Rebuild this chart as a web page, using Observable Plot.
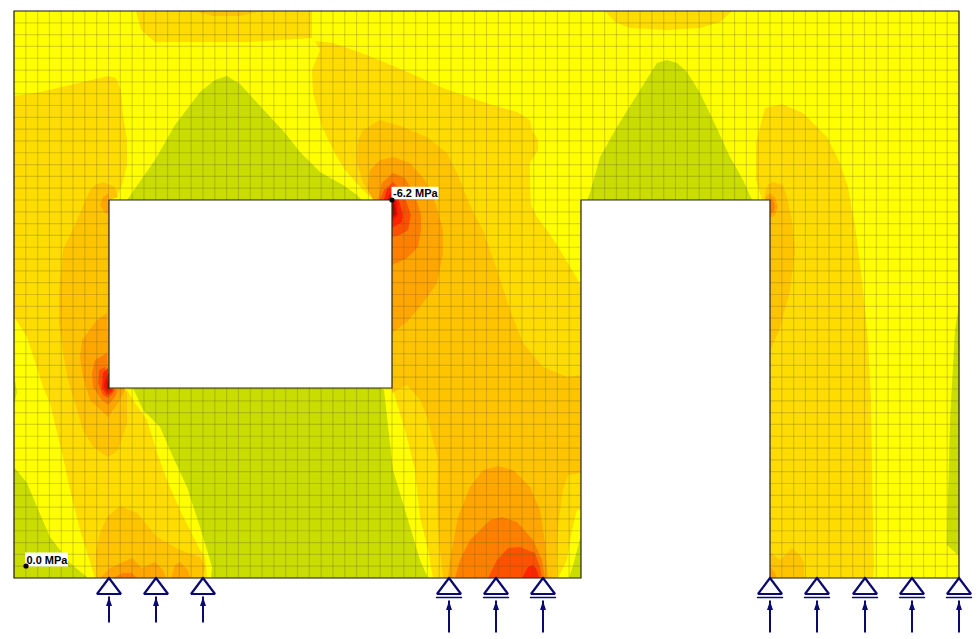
<!DOCTYPE html>
<html><head><meta charset="utf-8">
<script src="https://cdn.jsdelivr.net/npm/d3@7"></script>
<script src="https://cdn.jsdelivr.net/npm/@observablehq/plot@0.6"></script>
<style>html,body{margin:0;padding:0;background:#fff;overflow:hidden}svg{display:block}</style>
</head><body><div id="chart"></div>
<script>
// Lengths in cm: x from the wall's left edge, y down from the wall's top edge.
const wallW = 945, wallH = 567, meshStep = 945 / 80;
const wallOutline = [[0,0],[945,0],[945,567],[756,567],[756,189],[567,189],[567,567],[0,567],[0,0]];
const openingA = [[95,189],[378,189],[378,377],[95,377],[95,189]];
const openingB = [[567,189],[756,189],[756,571],[567,571],[567,189]];
const wallBase = [[0,0],[945,0],[945,567],[0,567]];

// Stress bands, low to high
const green="#c9dd00", yellow="#ffff00", gold="#ffdc00", b3="#ffc400", b4="#ffa600", b5="#ff8000", b6="#ff5200", b7="#ff2400", b8="#e81008", b9="#c80000", b10="#a00000";

const greenAbove1=[[113,189],[141,149],[161,114],[186,81],[201,69],[213,65],[226,73],[248,97],[271,122],[286,141],[306,161],[329,174],[343,184],[348,189]];
const greenAbove2=[[573,189],[576,182],[586,146],[603,116],[626,79],[643,52],[653,49],[663,52],[673,61],[686,82],[699,109],[716,146],[729,169],[738,189]];
const greenBelow1=[[119,377],[129,399],[146,416],[159,446],[173,476],[186,516],[193,539],[198,556],[197,567],[414,567],[406,549],[391,499],[379,459],[370,379],[366,377]];
const greenLowerLeft=[[0,456],[13,472],[23,496],[36,526],[56,552],[74,567],[0,567]];
const greenEdge=[[0,364],[3,381],[0,394]];
const greenCorner=[[555,567],[560,551],[567,524],[567,567]];
const greenRight=[[945,294],[941,319],[936,409],[934,489],[933,534],[945,545]];

const goldTopLeft=[[122,0],[127,19],[141,31],[236,31],[298,27],[298,0]];
const capTopLeft=[[179,0],[199,5],[226,5],[248,0]];
const goldTopRight=[[591,0],[601,11],[616,17],[653,19],[686,17],[706,11],[718,0]];
const goldCentre=[[301,30],[319,32],[353,44],[396,62],[429,77],[469,91],[503,101],[516,109],[518,119],[524,129],[524,139],[516,152],[516,176],[517,194],[523,206],[533,219],[546,239],[567,274],[567,567],[419,567],[414,539],[406,506],[401,459],[391,419],[381,386],[378,377],[378,189],[366,189],[358,187],[349,179],[331,159],[323,146],[308,116],[299,82],[298,59],[306,39]];
const goldLeft=[[0,85],[26,81],[86,67],[94,65],[102,67],[107,79],[109,104],[113,129],[113,154],[108,174],[102,187],[95,189],[95,377],[113,379],[121,392],[133,409],[143,442],[153,469],[166,499],[186,539],[191,546],[193,567],[81,567],[66,519],[56,479],[49,446],[36,392],[29,376],[13,326],[0,306]];
const goldRight=[[768,93],[751,97],[746,116],[742,132],[742,169],[748,189],[756,189],[756,567],[859,567],[860,556],[859,519],[857,389],[854,329],[848,269],[841,214],[838,199],[834,176],[826,152],[813,126],[789,102]];

const b3Centre=[[361,189],[358,186],[349,172],[343,152],[344,129],[349,119],[366,109],[389,116],[413,126],[433,142],[443,162],[458,199],[469,219],[483,259],[496,299],[509,332],[529,356],[553,366],[567,364],[567,462],[554,464],[549,479],[544,516],[542,567],[429,567],[426,539],[424,516],[423,482],[424,449],[413,406],[406,389],[393,374],[383,379],[378,382],[378,189]];
const insetYellow=[[567,499],[563,499],[558,519],[553,549],[544,567],[567,567]];
const b3Left=[[95,189],[104,186],[101,176],[89,171],[81,174],[76,179],[63,209],[49,239],[45,279],[45,312],[49,342],[54,369],[61,392],[69,419],[79,436],[94,446],[104,439],[113,412],[113,382],[110,377],[95,377]];
const b3Right=[[756,189],[751,187],[751,182],[754,174],[758,171],[769,174],[773,186],[778,209],[781,240],[776,280],[765,320],[756,340]];
const b3Foot=[[82,567],[82,539],[86,522],[93,506],[106,495],[123,502],[143,526],[166,539],[186,546],[191,556],[189,567]];
const b3RightFoot=[[756,541],[766,549],[778,537],[786,544],[790,552],[790,567],[756,567]];

const b4Dome=[[434,567],[436,549],[444,506],[456,476],[469,459],[484,455],[499,459],[516,476],[526,499],[531,532],[534,567]];
const b5Dome=[[441,567],[446,549],[456,529],[476,509],[488,506],[503,511],[519,529],[528,549],[531,567]];
const b6Dome=[[474,567],[483,549],[494,537],[506,536],[521,542],[526,556],[528,567]];
const b7Dome=[[508,567],[514,556],[519,554],[523,559],[525,567]];

const b4Corner=[[359,189],[354,179],[356,159],[366,149],[379,146],[396,152],[411,169],[422,194],[429,219],[429,242],[423,272],[409,292],[393,311],[378,322],[378,189]];
const b5Corner=[[364,189],[368,172],[379,162],[391,167],[401,184],[407,204],[407,219],[404,236],[393,247],[378,254],[378,189]];
const b6Corner=[[366,189],[370,179],[379,171],[389,181],[397,204],[394,219],[386,224],[378,226]];
const b7Corner=[[370,189],[373,178],[378,175],[384,186],[389,204],[388,211],[378,217]];
const b8Corner=[[373,189],[376,182],[379,181],[383,192],[384,204],[378,211]];
const b9Corner=[[375,189],[378,185],[381,194],[382,203],[378,207]];
const b10Corner=[[378,189],[380,196],[380,201],[378,203]];

const b4Left=[[93,302],[83,309],[68,329],[66,346],[69,366],[76,389],[94,406],[104,392],[111,379],[110,377],[95,377]];
const b4LeftUpper=[[95,182],[89,186],[86,194],[90,201],[95,203]];
const b5Left=[[93,342],[81,349],[78,362],[79,376],[88,389],[94,394],[101,386],[104,379],[95,377]];
const b6Left=[[91,356],[85,359],[84,372],[89,384],[94,387],[99,382],[101,378],[95,377]];
const b7Left=[[94,357],[89,362],[88,377],[93,384],[98,381],[99,378],[95,377]];
const b8Left=[[95,362],[91,369],[90,376],[94,381],[97,378],[95,377]];
const b9Left=[[95,367],[93,372],[93,377],[95,379]];

const b4FootA=[[86,567],[96,557],[118,547],[128,557],[141,551],[149,559],[152,567]];
const b4FootB=[[157,567],[161,554],[166,551],[174,559],[176,567]];
const b5Foot=[[99,567],[109,562],[118,562],[123,567]];
const b4Right=[[751,187],[756,182],[761,186],[764,196],[761,204],[756,207]];
const b5Right=[[756,186],[759,189],[761,196],[759,201],[756,203]];
const b4RightFoot=[[756,556],[761,562],[762,567],[756,567]];

const bands=[
 [wallBase,yellow],
 [goldTopLeft,gold],[capTopLeft,b3],[goldTopRight,gold],[goldCentre,gold],[goldLeft,gold],[goldRight,gold],
 [b3Centre,b3],[insetYellow,yellow],[b3Left,b3],[b3Right,b3],[b3Foot,b3],[b3RightFoot,b3],
 [greenAbove1,green],[greenAbove2,green],[greenBelow1,green],[greenLowerLeft,green],[greenEdge,green],[greenCorner,green],[greenRight,green],
 [b4Dome,b4],[b5Dome,b5],[b6Dome,b6],[b7Dome,b7],
 [b4Corner,b4],[b5Corner,b5],[b6Corner,b6],[b7Corner,b7],[b8Corner,b8],[b9Corner,b9],[b10Corner,b10],
 [b4Left,b4],[b4LeftUpper,b4],[b5Left,b5],[b6Left,b6],[b7Left,b7],[b8Left,b8],[b9Left,b9],
 [b4FootA,b4],[b4FootB,b4],[b5Foot,b5],[b4Right,b4],[b5Right,b5],[b4RightFoot,b4]
];

// Supports along the base: fixed ones, then rollers
const fixedSupports=[95,142,189];
const rollerSupports=[435,482,529,756,803,851,898,945];
const triangleShape=[[0,0],[12,16],[-12,16],[0,0]];
const rollerLine=[[-12.5,19.5],[12.5,19.5]];
const arrowHead=[[0,0],[3,9],[-3,9],[0,0]];
const fixedArrow={top:586,bottom:612}, rollerArrow={top:590,bottom:622};

// Extremes of the contour field
const markerX=[378,12], markerY=[189,555], markerText=["-6.2 MPa","0.0 MPa"];
const tagX=[379,12.5], tagY=[182.5,549], tagW=[47,43], tagH=[12.5,14];
const markers=markerX.map((x,i)=>({x,y:markerY[i],text:markerText[i],tx:tagX[i],ty:tagY[i],w:tagW[i],h:tagH[i]}));

const X=d=>d[0], Y=d=>d[1];
const navy="#0a0a6e";
const allSupports=[...fixedSupports,...rollerSupports];
const tri=allSupports.flatMap(s=>triangleShape.map(p=>({s,x:s+p[0],y:wallH+p[1]})));
const rol=rollerSupports.flatMap(s=>rollerLine.map(p=>({s,x:s+p[0],y:wallH+p[1]})));
const arrows=[...fixedSupports.map(s=>({s,...fixedArrow})),...rollerSupports.map(s=>({s,...rollerArrow}))];
const heads=arrows.flatMap(a=>arrowHead.map(p=>({s:a.s,x:a.s+p[0],y:a.top+p[1]})));

const plot=Plot.plot({
  width:979,height:639,
  x:{domain:[0,wallW],range:[13.5,958.5],axis:null},
  y:{domain:[0,wallH],range:[10.5,577.5],axis:null},
  marks:[
    ...bands.map(([pts,c])=>Plot.line(pts,{x:X,y:Y,fill:c,stroke:"none"})),
    Plot.ruleX(d3.range(0,81).map(i=>i*meshStep),{y1:0,y2:wallH,stroke:"#5a5a28",strokeOpacity:0.25,strokeWidth:1.2}),
    Plot.ruleY(d3.range(0,49).map(i=>i*meshStep),{x1:0,x2:wallW,stroke:"#5a5a28",strokeOpacity:0.25,strokeWidth:1.2}),
    Plot.line(openingA,{x:X,y:Y,fill:"#fff",stroke:"none"}),
    Plot.line(openingB,{x:X,y:Y,fill:"#fff",stroke:"none"}),
    Plot.line(openingA,{x:X,y:Y,stroke:"#2a2a10",strokeWidth:1.2}),
    Plot.line(wallOutline,{x:X,y:Y,stroke:"#2a2a10",strokeWidth:1.2}),
    Plot.line(tri,{x:"x",y:"y",z:"s",stroke:navy,strokeWidth:2.2,strokeLinejoin:"miter"}),
    Plot.line(rol,{x:"x",y:"y",z:"s",stroke:navy,strokeWidth:1.5}),
    Plot.ruleX(arrows,{x:"s",y1:"top",y2:"bottom",stroke:navy,strokeWidth:2}),
    Plot.line(heads,{x:"x",y:"y",z:"s",fill:navy,stroke:"none"}),
    Plot.rect(markers,{x1:d=>d.tx-1,x2:d=>d.tx-1+d.w,y1:d=>d.ty-d.h/2,y2:d=>d.ty+d.h/2,fill:"#fff"}),
    Plot.dot(markers,{x:"x",y:"y",r:2.6,fill:"#000"}),
    Plot.text(markers,{x:"tx",y:"ty",text:"text",textAnchor:"start",fontFamily:"Liberation Sans",fontWeight:"bold",fontSize:11,fill:"#000"})
  ]
});
document.getElementById("chart").appendChild(plot);
</script></body></html>
